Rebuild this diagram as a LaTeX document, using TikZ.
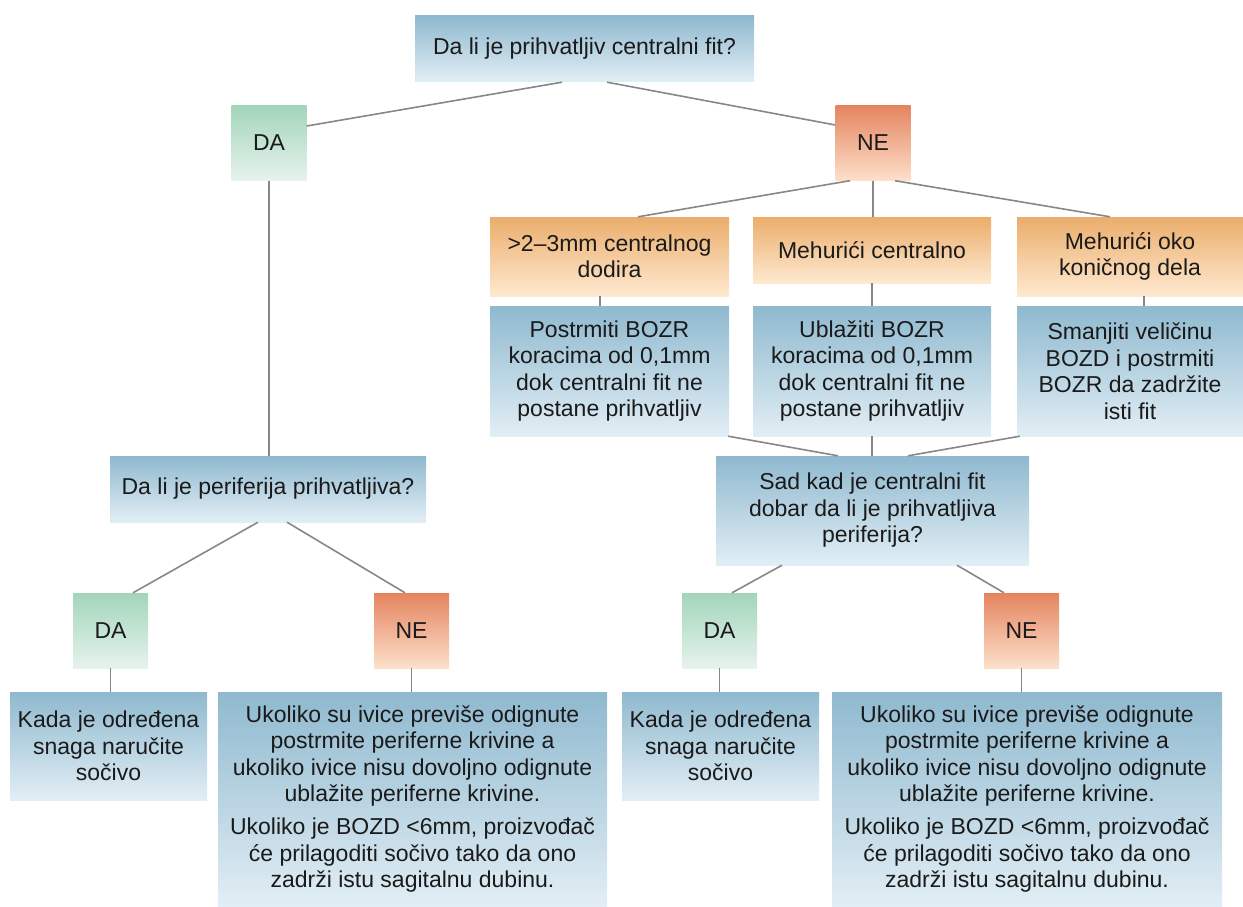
\documentclass[tikz,border=0pt]{standalone}
\usepackage{fontspec}
\setmainfont{Liberation Sans}
\usepackage{xcolor}
\usepackage{tikz}
\definecolor{bluetop}{HTML}{8FB9CF}
\definecolor{bluebot}{HTML}{E2EEF5}
\definecolor{greentop}{HTML}{A2D5BA}
\definecolor{greenbot}{HTML}{E7F3ED}
\definecolor{redtop}{HTML}{E4845F}
\definecolor{redmid}{HTML}{F1BB9C}
\definecolor{redbot}{HTML}{FDE0CB}
\definecolor{ambertop}{HTML}{EBAD6B}
\definecolor{amberbot}{HTML}{FEE9D0}
\definecolor{linkgray}{HTML}{878787}
\definecolor{inkblack}{HTML}{1A1A1A}

\tikzset{
  box/.style={rectangle, inner sep=0pt, align=center, text=inkblack,
    font=\fontsize{23}{26.5}\selectfont},
  qbox/.style={box, top color=bluetop, bottom color=bluebot},
  yesbox/.style={box, top color=greentop, bottom color=greenbot,
    minimum width=75pt, minimum height=75pt},
  nobox/.style={box, top color=redtop, middle color=redmid, bottom color=redbot,
    minimum width=75pt, minimum height=75pt},
  ambox/.style={box, top color=ambertop, bottom color=amberbot},
  link/.style={draw=linkgray, line width=1.6pt}
}

\begin{document}
\begin{tikzpicture}[x=1pt, y=-1pt]
\useasboundingbox (0,0) rectangle (1243,907);

% central fit question and first answers
\node[qbox, minimum width=339pt, minimum height=66pt] (qtop) at (584.5,49) {Da li je prihvatljiv centralni fit?};
\node[yesbox] (yes1) at (269,143) {DA};
\node[nobox] (no1) at (873,143) {NE};

% problems with the central fit
\node[ambox, minimum width=239pt, minimum height=79pt] (touch) at (609.5,256.5) {>2–3mm centralnog\\dodira};
\node[ambox, minimum width=238pt, minimum height=66pt] (bubc) at (872,250) {Mehurići centralno};
\node[ambox, minimum width=226pt, minimum height=79pt] (bubk) at (1130,256.5) {Mehurići oko\\koničnog dela};

\node[qbox, minimum width=239pt, minimum height=130pt] (steep) at (609.5,371) {Postrmiti BOZR\\koracima od 0,1mm\\dok centralni fit ne\\postane prihvatljiv};
\node[qbox, minimum width=238pt, minimum height=130pt] (flat) at (872,371) {Ublažiti BOZR\\koracima od 0,1mm\\dok centralni fit ne\\postane prihvatljiv};
\node[qbox, minimum width=226pt, minimum height=130pt] (small) at (1130,371) {Smanjiti veličinu\\BOZD i postrmiti\\BOZR da zadržite\\isti fit};

% periphery questions
\node[qbox, minimum width=316pt, minimum height=66pt] (qper) at (268,489) {Da li je periferija prihvatljiva?};
\node[qbox, minimum width=313pt, minimum height=109pt] (qcen) at (872.5,510.5) {Sad kad je centralni fit\\dobar da li je prihvatljiva\\periferija?};

\node[yesbox] (yes2) at (110.5,630.5) {DA};
\node[nobox] (no2) at (411.5,630.5) {NE};
\node[yesbox] (yes3) at (719.5,630.5) {DA};
\node[nobox] (no3) at (1021.5,630.5) {NE};

% outcomes
\node[qbox, minimum width=197pt, minimum height=108pt] (order1) at (108.5,746) {Kada je određena\\snaga naručite\\sočivo};
\node[qbox, minimum width=389pt, minimum height=214pt] (edge1) at (412.5,799) {Ukoliko su ivice previše odignute\\postrmite periferne krivine a\\ukoliko ivice nisu dovoljno odignute\\ublažite periferne krivine.\\[6.5pt]Ukoliko je BOZD <6mm, proizvođač\\će prilagoditi sočivo tako da ono\\zadrži istu sagitalnu dubinu.};
\node[qbox, minimum width=197pt, minimum height=108pt] (order2) at (720.5,746) {Kada je određena\\snaga naručite\\sočivo};
\node[qbox, minimum width=390pt, minimum height=214pt] (edge2) at (1027,799) {Ukoliko su ivice previše odignute\\postrmite periferne krivine a\\ukoliko ivice nisu dovoljno odignute\\ublažite periferne krivine.\\[6.5pt]Ukoliko je BOZD <6mm, proizvođač\\će prilagoditi sočivo tako da ono\\zadrži istu sagitalnu dubinu.};

% connectors
\draw[link] ([xshift=-22.5pt]qtop.south) -- ([yshift=17pt]yes1.east);
\draw[link] ([xshift=22.5pt]qtop.south) -- ([yshift=18pt]no1.west);
\draw[link] (yes1.south) -- (yes1.south |- qper.north);
\draw[link] ([xshift=-23pt]no1.south) -- ([xshift=28.5pt]touch.north);
\draw[link] (no1.south) -- (no1.south |- bubc.north);
\draw[link] ([xshift=22pt]no1.south) -- ([xshift=-20pt]bubk.north);
\draw[link] ([xshift=-9.5pt]touch.south) -- ([xshift=-9.5pt]steep.north);
\draw[link] (bubc.south) -- (flat.north);
\draw[link] ([xshift=14pt]bubk.south) -- ([xshift=14pt]small.north);
\draw[link] ([xshift=-1pt]steep.south east) -- ([xshift=-34.5pt]qcen.north);
\draw[link] (flat.south) -- (flat.south |- qcen.north);
\draw[link] ([xshift=3pt]small.south west) -- ([xshift=35.5pt]qcen.north);
\draw[link] ([xshift=-10pt]qper.south) -- ([xshift=22.5pt]yes2.north);
\draw[link] ([xshift=19pt]qper.south) -- ([xshift=-6.5pt]no2.north);
\draw[link] ([xshift=-90.5pt]qcen.south) -- ([xshift=12.5pt]yes3.north);
\draw[link] ([xshift=84.5pt]qcen.south) -- ([xshift=-17.5pt]no3.north);
\draw[link] (yes2.south) -- (yes2.south |- order1.north);
\draw[link] (no2.south) -- (no2.south |- edge1.north);
\draw[link] (yes3.south) -- (yes3.south |- order2.north);
\draw[link] (no3.south) -- (no3.south |- edge2.north);
\end{tikzpicture}
\end{document}
